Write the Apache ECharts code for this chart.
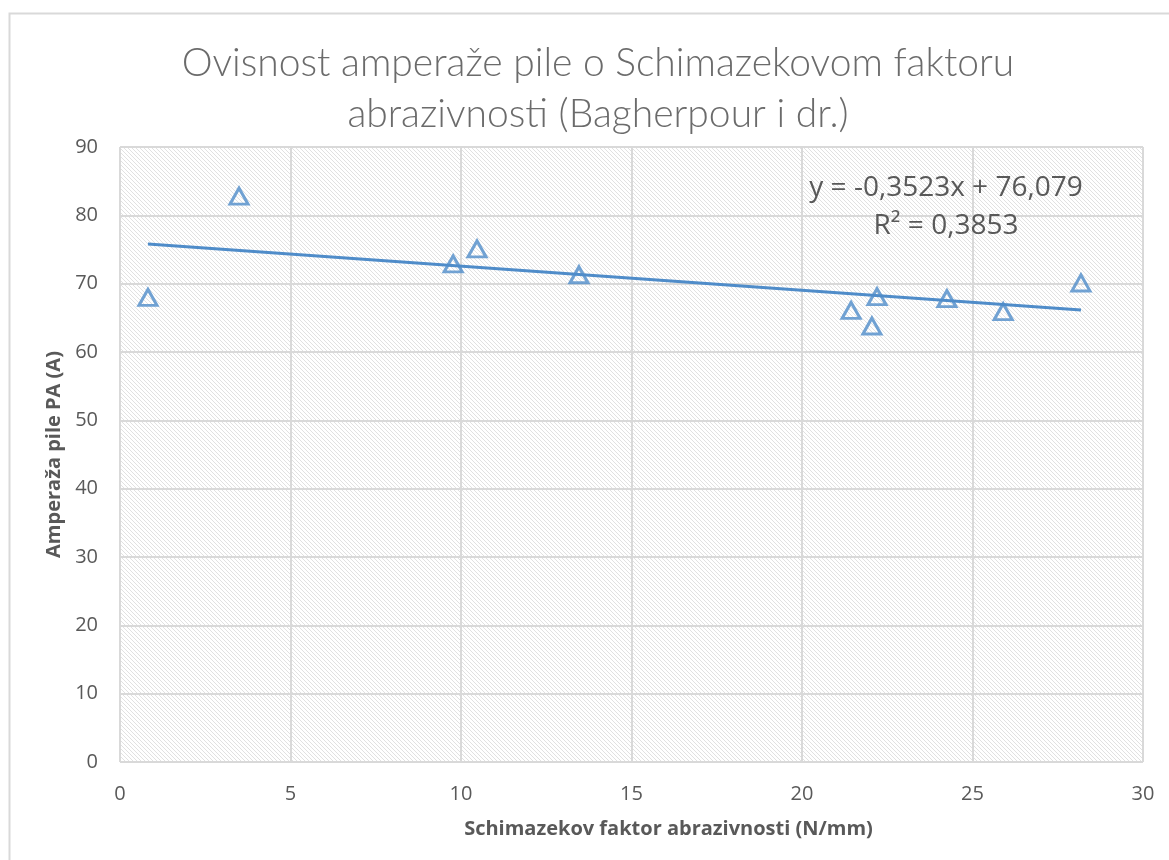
<!DOCTYPE html>
<html>
<head>
<meta charset="utf-8">
<script src="https://cdn.jsdelivr.net/npm/echarts@6/dist/echarts.min.js"></script>
<style>
html,body{margin:0;padding:0;background:#fff;}
#main{width:1169px;height:860px;}
</style>
</head>
<body>
<div id="main"></div>
<script>
const titleLines = ['Ovisnost amperaže pile o Schimazekovom faktoru', 'abrazivnosti (Bagherpour i dr.)'];
const xName = 'Schimazekov faktor abrazivnosti (N/mm)';
const yName = 'Amperaža pile PA (A)';
const xValues = [0.82, 3.49, 9.77, 10.47, 13.46, 21.44, 22.05, 22.2, 24.25, 25.9, 28.18];
const yValues = [68.0, 82.8, 72.9, 75.1, 71.3, 66.1, 63.8, 68.1, 67.8, 65.9, 70.1];
const trendSlope = -0.3523;
const trendIntercept = 76.079;
const equationLines = ['y = -0,3523x + 76,079', 'R² = 0,3853'];

const titleFont = 'Lato, "Open Sans", sans-serif';
const font = '"Open Sans", Lato, sans-serif';
const blue = '#4f8cc9';

// hatch pattern
const pc = document.createElement('canvas');
pc.width = 4; pc.height = 4;
const pctx = pc.getContext('2d');
const img = pctx.createImageData(4, 4);
for (let y = 0; y < 4; y++) for (let x = 0; x < 4; x++) {
  const i = (y * 4 + x) * 4;
  const on = ((x - y) % 4 + 4) % 4 === 0;
  const v = on ? 225 : 255;
  img.data[i] = v; img.data[i+1] = v; img.data[i+2] = v; img.data[i+3] = 255;
}
pctx.putImageData(img, 0, 0);

const scatterData = xValues.map((x, i) => [x, yValues[i]]);
const xMin = Math.min(...xValues), xMax = Math.max(...xValues);
const trendData = [[xMin, trendSlope * xMin + trendIntercept], [xMax, trendSlope * xMax + trendIntercept]];

const chart = echarts.init(document.getElementById('main'), null, {renderer: 'canvas'});
chart.setOption({
  animation: false,
  backgroundColor: '#fff',
  title: {
    text: titleLines.join('\n'),
    left: 593, top: 33, textAlign: 'center',
    textStyle: {fontFamily: titleFont, fontWeight: 300, fontSize: 39, color: '#6b6b6b', lineHeight: 51}
  },
  grid: {
    left: 120, right: 26, top: 147, bottom: 98,
    show: true, borderWidth: 0,
    backgroundColor: {image: pc, repeat: 'repeat'}
  },
  xAxis: {
    type: 'value', min: 0, max: 30, interval: 5,
    name: xName, nameLocation: 'middle', nameGap: 57,
    nameTextStyle: {fontFamily: font, fontWeight: 'bold', fontSize: 20, color: '#595959', padding: [0, 0, 0, 74]},
    axisLine: {show: false}, axisTick: {show: false},
    axisLabel: {fontFamily: font, fontSize: 20, color: '#595959', margin: 22},
    splitLine: {lineStyle: {color: '#d9d9d9', width: 2}}
  },
  yAxis: {
    type: 'value', min: 0, max: 90, interval: 10,
    name: yName, nameLocation: 'middle', nameGap: 54, nameRotate: 90,
    nameTextStyle: {fontFamily: font, fontWeight: 'bold', fontSize: 20, color: '#595959'},
    axisLine: {show: false}, axisTick: {show: false},
    axisLabel: {fontFamily: font, fontSize: 20, color: '#595959', margin: 22},
    splitLine: {lineStyle: {color: '#d9d9d9', width: 2}}
  },
  graphic: [
    {type: 'rect', left: 7, top: 11, shape: {width: 1200, height: 900}, style: {fill: 'none', stroke: '#d9d9d9', lineWidth: 2}, silent: true, z: -1},
    {type: 'text', x: 946, y: 188, style: {text: equationLines[0], fontFamily: font, fontSize: 28, fill: '#595959', textAlign: 'center', textVerticalAlign: 'middle'}, z: 10},
    {type: 'text', x: 946, y: 226, style: {text: equationLines[1], fontFamily: font, fontSize: 28, fill: '#595959', textAlign: 'center', textVerticalAlign: 'middle'}, z: 10}
  ],
  series: [
    {
      type: 'line', data: trendData, symbol: 'none',
      lineStyle: {color: blue, width: 3}, z: 2
    },
    {
      type: 'scatter', data: scatterData, symbol: 'triangle', symbolSize: [18, 16],
      itemStyle: {color: 'rgba(255,255,255,0)', borderColor: blue, borderWidth: 3}, z: 3
    }
  ]
});
</script>
</body>
</html>
